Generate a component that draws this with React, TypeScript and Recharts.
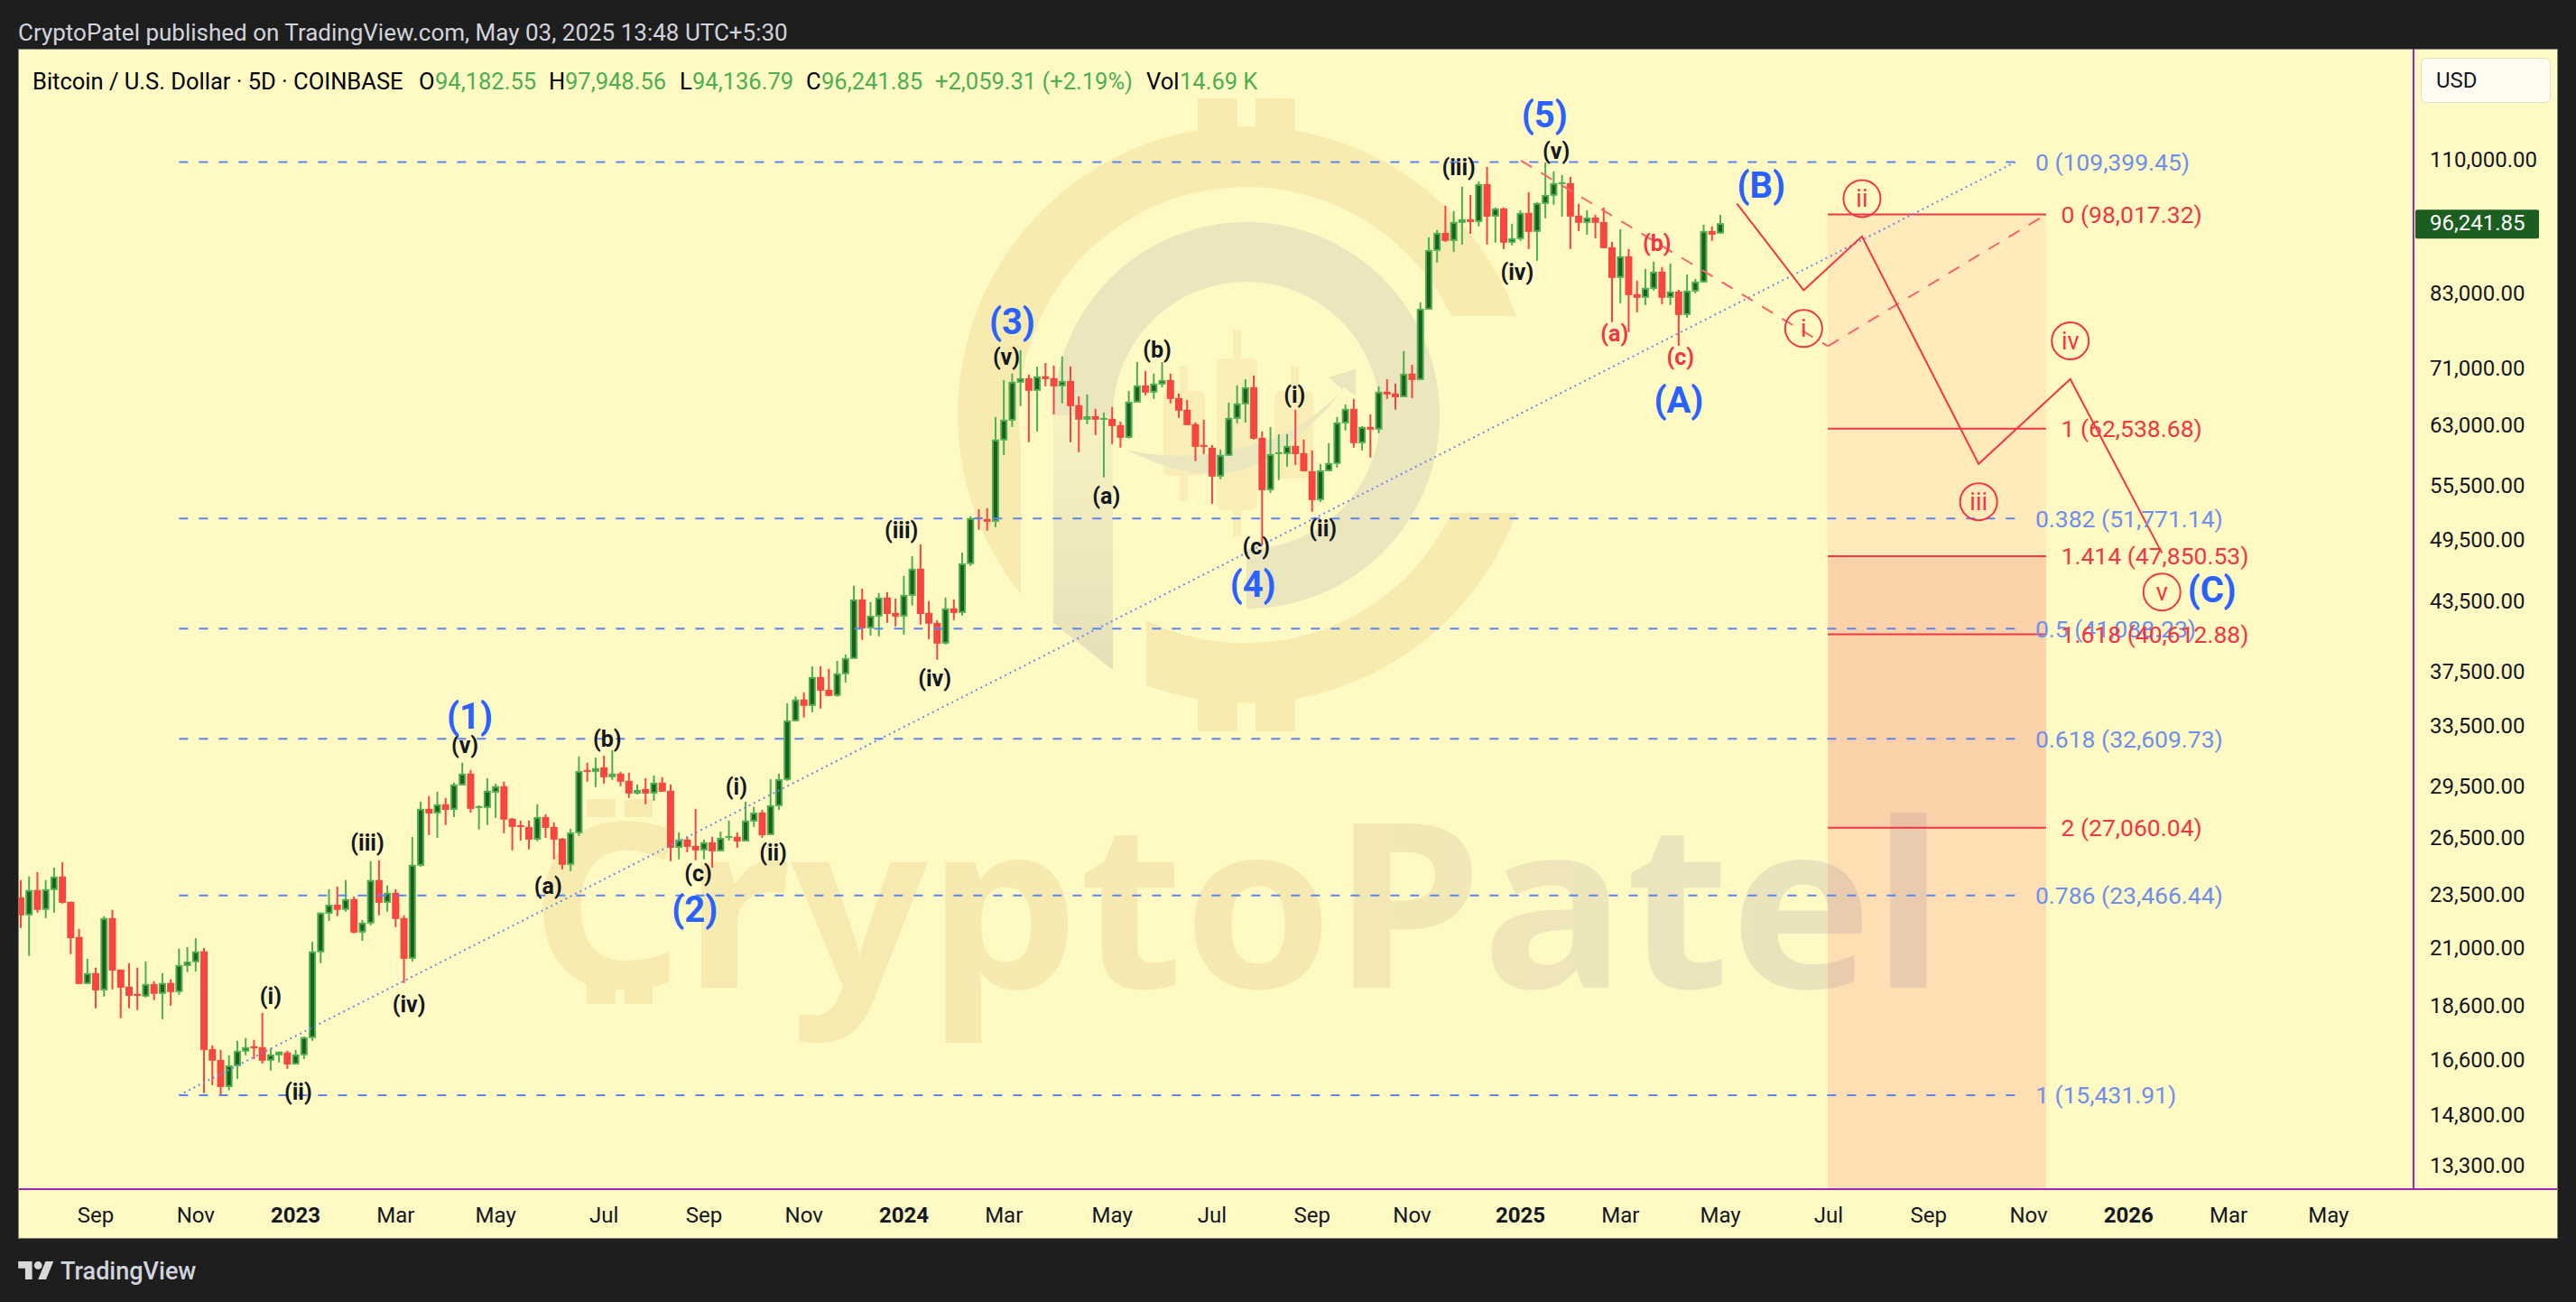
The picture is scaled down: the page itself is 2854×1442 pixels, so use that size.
import { Bar, ComposedChart, Line, ReferenceArea, ReferenceDot, ReferenceLine, XAxis, YAxis } from "recharts";

const BG = "#1e1e1e";
const PANEL = "#fff9c4";
const UP = "#4caf50";
const UP_FILL = "#1b5e20";
const DOWN = "#f5473f";
const RED = "#f23645";
const BLUE = "#2962ff";
const FIB_BLUE = "#5b85f2";
const FIB_TEXT = "#6d8fee";
const AXIS = "#9c27b0";
const FONT = "Roboto, sans-serif";
const BODY_W = 8;

// 5D candles, [open, high, low, close], bar 1 is the one cut by the left edge
const ohlc = [
  [23380, 24240, 21920, 22510], [22510, 24420, 20670, 23740], [23740, 24650, 22640, 22770], [22770, 24240, 22380, 23780],
  [23740, 24880, 22640, 24420], [24420, 25170, 23070, 23110], [23160, 23160, 20750, 21460], [21510, 21880, 19490, 19490],
  [19490, 20550, 19490, 19940], [19940, 20170, 18520, 19230], [19230, 22470, 18980, 22380], [22380, 22770, 19270, 20050],
  [20090, 20090, 18140, 19340], [19380, 20360, 18520, 19010], [19090, 20170, 18450, 19010], [18980, 20430, 18940, 19490],
  [19490, 19600, 18840, 19090], [19090, 19940, 18100, 19530], [19530, 19680, 18620, 19160], [19160, 20990, 19050, 20280],
  [20240, 21060, 19980, 20430], [20400, 21460, 20010, 20870], [20870, 21020, 15500, 16970], [17000, 17130, 15760, 16590],
  [16620, 16970, 15410, 15700], [15700, 16780, 15590, 16430], [16400, 17300, 15970, 16940], [16910, 17400, 16780, 17070],
  [17100, 17330, 16650, 17030], [17070, 18340, 16490, 16590], [16590, 17030, 16250, 16810], [16780, 16910, 16530, 16910],
  [16880, 16940, 16310, 16460], [16460, 16970, 16460, 16810], [16780, 17460, 16650, 17430], [17400, 21300, 17300, 20870],
  [20830, 22640, 20360, 22640], [22590, 23780, 22250, 23020], [23020, 23910, 22470, 22770], [22770, 24240, 22680, 23290],
  [23290, 23420, 21670, 21710], [21710, 22290, 21340, 22170], [22130, 25220, 22040, 24240], [24240, 25270, 22510, 23110],
  [23110, 23960, 22680, 23600], [23600, 23780, 21960, 22340], [22380, 22510, 19530, 20550], [20550, 26540, 20430, 25030],
  [24980, 28580, 24930, 28150], [28150, 28900, 26640, 27880], [27880, 29180, 26490, 28420], [28420, 28800, 27210, 28090],
  [28090, 29740, 27670, 29630], [29570, 31010, 29570, 30310], [30310, 30540, 27930, 28150], [28260, 28360, 26950, 28310],
  [28200, 30020, 27210, 29240], [29120, 29680, 27620, 29520], [29520, 29800, 26740, 27520], [27570, 27620, 25800, 27100],
  [27200, 27460, 26340, 27100], [27100, 27460, 25850, 26390], [26390, 28420, 26290, 27670], [27670, 27830, 26490, 27050],
  [27100, 27360, 25320, 26390], [26440, 26490, 24790, 25030], [25030, 27000, 24700, 26790], [26740, 31420, 26590, 30480],
  [30540, 31010, 29800, 30420], [30420, 31340, 29460, 30660], [30710, 31480, 29680, 30080], [30080, 31840, 29910, 30310],
  [30310, 30420, 29520, 29800], [29850, 30370, 28800, 29070], [29070, 29630, 29010, 29290], [29350, 30020, 28420, 29070],
  [29070, 30190, 28630, 29740], [29740, 30080, 29180, 29180], [29240, 29630, 25220, 25940], [25940, 26790, 25320, 26390],
  [26390, 26540, 25700, 25990], [26040, 28150, 25270, 25800], [25800, 26390, 25320, 26240], [26240, 26540, 24880, 25750],
  [25750, 26840, 25750, 26490], [26490, 27470, 26340, 26590], [26540, 26790, 25940, 26290], [26290, 28580, 26290, 27470],
  [27410, 28260, 27100, 27930], [27930, 28090, 26490, 26640], [26640, 29960, 26640, 28360], [28310, 30310, 28090, 29960],
  [29910, 35130, 29850, 33890], [33830, 35640, 33830, 35410], [35410, 35950, 34090, 34940], [34940, 37970, 34480, 37120],
  [37120, 37970, 34740, 36080], [36140, 37760, 35680, 35680], [35680, 38410, 35610, 37410], [37340, 38920, 36700, 38630],
  [38560, 44960, 38560, 43690], [43690, 44700, 40120, 41120], [41120, 43450, 40500, 42230], [42150, 44280, 40430, 43860],
  [43860, 44360, 41590, 42380], [42470, 43770, 41280, 42150], [42150, 45900, 40580, 44110], [44020, 47850, 43120, 46600],
  [46600, 49050, 41440, 42380], [42470, 43530, 40200, 41520], [41590, 41830, 38490, 39820], [39820, 43860, 39740, 42880],
  [42880, 43690, 41830, 42470], [42470, 48220, 42230, 47130], [47050, 52020, 46870, 51820], [51920, 52810, 50560, 51720],
  [51720, 52910, 50470, 51430], [51430, 64070, 50850, 61110], [61000, 69250, 59170, 63710], [63590, 70180, 62750, 68990],
  [68860, 73730, 65550, 69510], [69510, 70050, 60770, 67700], [67700, 71250, 62160, 69780], [69780, 71790, 68340, 69380],
  [69510, 71390, 64430, 68340], [68340, 72750, 65930, 69120], [69120, 71250, 60770, 65550], [65680, 66920, 59500, 63710],
  [63710, 67180, 63110, 64190], [64190, 65180, 61690, 63710], [63710, 64680, 56440, 63950], [63830, 65430, 60540, 62870],
  [62990, 63470, 60080, 61340], [61340, 67700, 61230, 66170], [66050, 71920, 66050, 68470], [68470, 70580, 67050, 67440],
  [67440, 70180, 66550, 68730], [68600, 71920, 68210, 69250], [69250, 70180, 65930, 66550], [66670, 67310, 63950, 64930],
  [65060, 66420, 62990, 62990], [63110, 63350, 58400, 60190], [60420, 63710, 59280, 60190], [60080, 60420, 53410, 56540],
  [56540, 59840, 56220, 59170], [59060, 66050, 59060, 63950], [63830, 68470, 63230, 65930], [65800, 69380, 63350, 68210],
  [68210, 69910, 61110, 61230], [61340, 62160, 48960, 54950], [54950, 62750, 54650, 59280], [59280, 61800, 56120, 59500],
  [59280, 61800, 57730, 60300], [60300, 65060, 57950, 59280], [59390, 61110, 57180, 57180], [57180, 59730, 52510, 53820],
  [53820, 58030, 53620, 57290], [57180, 60650, 57180, 58170], [58060, 64070, 57620, 63350], [63230, 65800, 62280, 65180],
  [65180, 66550, 60080, 60650], [60650, 62870, 59730, 62750], [62750, 64430, 58840, 62400], [62400, 68340, 61920, 67570],
  [67570, 69380, 66550, 67180], [67310, 68730, 65060, 66790], [66790, 73590, 66790, 70180], [70180, 71520, 66670, 69250],
  [69250, 81510, 69250, 80430], [80280, 93430, 80280, 90980], [90810, 94860, 88610, 94320], [94320, 99850, 92560, 92730],
  [92730, 98710, 90630, 96490], [96310, 103920, 92030, 97040], [97040, 102130, 94130, 96490], [96490, 105070, 95590, 104480],
  [104480, 108320, 92030, 97580], [97580, 99470, 92380, 99280], [99280, 99470, 91160, 92380], [92380, 96130, 91860, 93250],
  [93080, 98900, 92730, 98360], [98360, 102720, 91160, 94500], [94500, 100600, 88940, 100410], [100220, 109330, 97220, 102130],
  [101950, 107300, 100030, 104680], [104480, 106490, 97580, 104880], [104680, 106080, 91160, 97580], [97770, 100220, 94680, 96310],
  [96310, 98900, 93950, 97400], [97400, 97960, 93250, 96310], [96490, 99470, 91330, 91330], [91500, 92550, 78180, 85800],
  [85800, 95040, 81360, 89780], [89780, 91160, 76570, 82760], [82920, 85310, 79830, 82290], [82290, 87420, 81050, 84020],
  [83850, 88780, 83540, 86930], [86930, 87770, 81200, 82290], [82290, 88440, 81050, 83390], [83390, 83700, 74410, 79380],
  [79380, 86440, 78930, 83540], [83390, 85630, 83070, 85150], [84990, 95950, 84990, 94680], [94680, 95590, 92730, 93950],
  [94182.55, 97948.56, 94136.79, 96241.85],
];

const priceTicks = [110000, 96241.85, 83000, 71000, 63000, 55500, 49500, 43500, 37500, 33500, 29500, 26500, 23500, 21000, 18600, 16600, 14800, 13300];
const timeIdx = [10, 22, 34, 46, 58, 71, 83, 95, 107, 119, 132, 144, 156, 168, 181, 193, 205, 218, 230, 242, 254, 266, 278];
const timeLabels = ["Sep", "Nov", "2023", "Mar", "May", "Jul", "Sep", "Nov", "2024", "Mar", "May", "Jul", "Sep", "Nov", "2025", "Mar", "May", "Jul", "Sep", "Nov", "2026", "Mar", "May"];

// retracement drawn from the 2022 low to the 2025 high
const blueLevels = [109399.45, 51771.14, 41088.23, 32609.73, 23466.44, 15431.91];
const blueNames = ["0 (109,399.45)", "0.382 (51,771.14)", "0.5 (41,088.23)", "0.618 (32,609.73)", "0.786 (23,466.44)", "1 (15,431.91)"];

// fib extension box on the right
const redLevels = [98017.32, 62538.68, 47850.53, 40612.88, 27060.04];
const redNames = ["0 (98,017.32)", "1 (62,538.68)", "1.414 (47,850.53)", "1.618 (40,612.88)", "2 (27,060.04)"];

const trendIdx = [20, 240.4];
const trendPrice = [15431.91, 109399.45];
const dropIdx = [181.07, 217.9];
const dropPrice = [109750, 74340];
const riseIdx = [217.9, 244.1];
const risePrice = [74340, 98017.32];
const pathIdx = [207, 215, 222, 236, 247, 258];
const pathPrice = [100270, 83590, 93600, 58060, 69370, 48170];

const bigLabels: [string, number, number][] = [
  ["(1)", 54.9, 34172], ["(2)", 81.9, 22784], ["(3)", 120, 78170], ["(4)", 148.9, 45066], ["(5)", 183.9, 120730],
  ["(A)", 200, 66385], ["(B)", 209.9, 104150], ["(C)", 264, 44565],
];
const blackLabels: [string, number, number][] = [
  ["(i)", 31, 18990], ["(ii)", 34.3, 15535], ["(iii)", 42.6, 26228], ["(iv)", 47.6, 18660], ["(v)", 54.3, 32148],
  ["(a)", 64.3, 23932], ["(b)", 71.4, 32612], ["(c)", 82.3, 24587], ["(i)", 86.9, 29499], ["(ii)", 91.3, 25653],
  ["(iii)", 106.7, 50495], ["(iv)", 110.7, 37008], ["(v)", 119.3, 72657], ["(a)", 131.3, 54234], ["(b)", 137.4, 73769],
  ["(c)", 149.3, 48798], ["(i)", 153.9, 67143], ["(ii)", 157.3, 50686], ["(iii)", 173.6, 108240], ["(iv)", 180.6, 86817],
  ["(v)", 185.3, 111910],
];
const redLabels: [string, number, number][] = [["(a)", 192.3, 76386], ["(b)", 197.4, 92205], ["(c)", 200.2, 72615]];
const circled: [string, number, number][] = [["i", 215, 77150], ["ii", 222, 101352], ["iii", 236, 53635], ["iv", 247, 75172], ["v", 258, 44378]];

const rowMap = new Map<number, any>();
const rowAt = (idx: number) => {
  if (!rowMap.has(idx)) rowMap.set(idx, { idx });
  return rowMap.get(idx);
};
ohlc.forEach((c, i) => {
  const r = rowAt(i + 1);
  r.open = c[0];
  r.high = c[1];
  r.low = c[2];
  r.close = c[3];
  r.range = [c[2], c[1]];
});
trendIdx.forEach((x, i) => (rowAt(x).trend = trendPrice[i]));
dropIdx.forEach((x, i) => (rowAt(x).drop = dropPrice[i]));
riseIdx.forEach((x, i) => (rowAt(x).rise = risePrice[i]));
pathIdx.forEach((x, i) => (rowAt(x).path = pathPrice[i]));
const rows = [...rowMap.values()].sort((a, b) => a.idx - b.idx);

function Candle(props: any) {
  const { x, y, width, height, payload } = props;
  if (!payload || payload.range == null || !height) return null;
  const { open, high, low, close } = payload;
  // the bar only knows high and low, place open and close on the same log scale
  const at = (p: number) => y + (height * Math.log(high / p)) / Math.log(high / low);
  const up = close >= open;
  const top = at(Math.max(open, close));
  const bottom = at(Math.min(open, close));
  const h = Math.max(bottom - top, 2);
  // the fractional rows make the band narrow, so width comes from BODY_W
  const cx = x + width / 2;
  const edge = up ? UP : DOWN;
  return (
    <g>
      <rect x={cx - 1} y={y} width={2} height={height} fill={edge} />
      <rect x={cx - BODY_W / 2} y={top} width={BODY_W} height={h} fill={edge} />
      {h > 4 && <rect x={cx - BODY_W / 2 + 2} y={top + 2} width={BODY_W - 4} height={h - 4} fill={up ? UP_FILL : "#f9463f"} />}
    </g>
  );
}

function PriceTick({ y, payload }: any) {
  const last = payload.value === 96241.85;
  return (
    <g>
      {last && <rect x={2655} y={y - 15} width={137} height={32} rx={2} fill={UP_FILL} />}
      <text x={2671} y={y} dy={8} fontSize={24} fontFamily={FONT} fill={last ? "#fff" : "#131722"}>
        {payload.value.toLocaleString("en-US", { minimumFractionDigits: 2 })}
      </text>
    </g>
  );
}

function TimeTick({ x, payload }: any) {
  const label = timeLabels[timeIdx.indexOf(payload.value)];
  return (
    <text x={x} y={1300} textAnchor="middle" fontSize={24} fontFamily={FONT} fill="#131722" fontWeight={/^\d/.test(label) ? 700 : 400}>
      {label}
    </text>
  );
}

function note(text: string, fill: string, size: number, anchor = "middle", weight = 700) {
  return ({ cx, cy }: any) => (
    <text x={cx} y={cy} textAnchor={anchor as any} dominantBaseline="central" fontFamily={FONT} fontSize={size} fontWeight={weight} fill={fill}>
      {text}
    </text>
  );
}

function ring(text: string) {
  return ({ cx, cy }: any) => (
    <g>
      <circle cx={cx} cy={cy} r={20.5} fill="none" stroke={RED} strokeWidth={2} />
      <text x={cx} y={cy} textAnchor="middle" dominantBaseline="central" fontFamily={FONT} fontSize={27} fill={RED}>
        {text}
      </text>
    </g>
  );
}

function Watermark() {
  const gold = "#f7ebb0";
  const soft = "#f9eeb6";
  const gray = "#ebe6bd";
  return (
    <svg width={2854} height={1442} style={{ position: "absolute", left: 0, top: 0 }}>
      <defs>
        <linearGradient id="wm" x1="0" x2="1" y1="0" y2="0">
          <stop offset="0" stopColor="#f7ebb0" />
          <stop offset="0.55" stopColor="#f5e9b1" />
          <stop offset="0.8" stopColor="#ebe5bd" />
          <stop offset="1" stopColor="#e8e2bd" />
        </linearGradient>
        <linearGradient id="stem" x1="0" x2="0" y1="0" y2="1">
          <stop offset="0" stopColor="#f8f2c2" />
          <stop offset="1" stopColor="#e5e0b8" />
        </linearGradient>
      </defs>
      <path d="M1680 350A319 319 0 1 0 1131 658L1131 492A252 252 0 0 1 1608 350Z" fill={gold} />
      <path d="M1680 568A319 319 0 0 1 1270 759L1270 687A252 252 0 0 0 1608 568Z" fill={gold} />
      <rect x={1327} y={109} width={44} height={50} fill={gold} />
      <rect x={1391} y={109} width={44} height={50} fill={gold} />
      <rect x={1327} y={750} width={44} height={60} fill={gold} />
      <rect x={1391} y={750} width={44} height={60} fill={gold} />
      <path d="M1381 674A214 214 0 1 0 1167 460L1233 460A148 148 0 1 1 1381 608Z" fill={gray} />
      <path d="M1167 460L1167 690L1233 742L1233 460Z" fill="url(#stem)" />
      <rect x={1289} y={433} width={46} height={94} rx={6} fill={soft} />
      <rect x={1307} y={405} width={9} height={150} fill={soft} />
      <rect x={1348} y={397} width={45} height={168} rx={6} fill={soft} />
      <rect x={1366} y={365} width={9} height={230} fill={soft} />
      <rect x={1412} y={433} width={43} height={97} rx={6} fill={soft} />
      <rect x={1430} y={405} width={9} height={125} fill={soft} />
      <path d="M1248 498Q1340 545 1400 510Q1450 478 1481 440L1502 409L1472 418L1488 432Q1440 480 1395 490Q1320 515 1248 498Z" fill={gray} />
      <path d="M1472 418L1502 409L1502 438Z" fill={gray} />
      <rect x={650} y={885} width={32} height={20} fill={gold} />
      <rect x={692} y={885} width={31} height={20} fill={gold} />
      <rect x={650} y={1090} width={32} height={22} fill={gold} />
      <rect x={692} y={1090} width={31} height={22} fill={gold} />
      <text x={587} y={1094} fontFamily="'Noto Sans', sans-serif" fontWeight={700} fontSize={255} textLength={1567} lengthAdjust="spacingAndGlyphs" fill="url(#wm)">
        CryptoPatel
      </text>
    </svg>
  );
}

const legendBits: [string, number, string][] = [
  ["Bitcoin / U.S. Dollar · 5D · COINBASE", 36, "#000"],
  ["O", 464, "#000"], ["94,182.55", 482, UP],
  ["H", 608, "#000"], ["97,948.56", 626, UP],
  ["L", 753, "#000"], ["94,136.79", 767, UP],
  ["C", 893, "#000"], ["96,241.85", 910, UP],
  ["+2,059.31 (+2.19%)", 1036, UP],
  ["Vol", 1270, "#000"], ["14.69 K", 1307, UP],
];

export default function App() {
  return (
    <div style={{ position: "absolute", left: 0, top: 0, width: 2854, height: 1442, background: BG, overflow: "hidden", fontFamily: FONT }}>
      <div style={{ position: "absolute", left: 20, top: 22, color: "#d1d4dc", fontSize: 26, lineHeight: "28px", whiteSpace: "nowrap" }}>
        CryptoPatel published on TradingView.com, May 03, 2025 13:48 UTC+5:30
      </div>
      <div style={{ position: "absolute", left: 20, top: 54, width: 2812, height: 1316, background: PANEL, border: "1px solid #85857c" }} />
      <Watermark />
      {legendBits.map(([text, left, color]) => (
        <div key={left} style={{ position: "absolute", left, top: 76, color, fontSize: 25.5, lineHeight: "28px", whiteSpace: "nowrap" }}>
          {text}
        </div>
      ))}
      <div style={{ position: "absolute", left: 2682, top: 64, width: 126, height: 48, background: "#fffdf2", border: "1px solid #e4e0c4", borderRadius: 6, color: "#131722", fontSize: 24, lineHeight: "48px", paddingLeft: 16 }}>
        USD
      </div>
      <div style={{ position: "absolute", left: 21, top: 54 }}>
        <ComposedChart width={2812} height={1317} data={rows} margin={{ top: 0, right: 0, bottom: 0, left: 0 }}>
          <XAxis
            dataKey="idx"
            type="number"
            domain={[0.783, 288.2]}
            allowDataOverflow
            ticks={timeIdx}
            interval={0}
            height={54}
            tick={<TimeTick />}
            tickLine={false}
            axisLine={{ stroke: AXIS, strokeWidth: 2 }}
          />
          <YAxis
            orientation="right"
            scale="log"
            type="number"
            domain={[12670, 138800]}
            allowDataOverflow
            ticks={priceTicks}
            interval={0}
            width={159}
            tick={<PriceTick />}
            tickLine={false}
            axisLine={{ stroke: AXIS, strokeWidth: 2 }}
          />
          <ReferenceArea x1={217.9} x2={244.1} y1={98017.32} y2={47850.53} fill="#faae97" fillOpacity={0.2} stroke="none" />
          <ReferenceArea x1={217.9} x2={244.1} y1={47850.53} y2={27060.04} fill={RED} fillOpacity={0.2} stroke="none" />
          <ReferenceArea x1={217.9} x2={244.1} y1={27060.04} y2={12670} fill={RED} fillOpacity={0.13} stroke="none" />
          {blueLevels.map((p) => (
            <ReferenceLine key={p} segment={[{ x: 20, y: p }, { x: 240.4, y: p }]} stroke={FIB_BLUE} strokeWidth={2} strokeDasharray="10 12" />
          ))}
          {redLevels.map((p) => (
            <ReferenceLine key={p} segment={[{ x: 217.9, y: p }, { x: 244.1, y: p }]} stroke={RED} strokeWidth={2} />
          ))}
          <Bar dataKey="range" barSize={8} shape={<Candle />} isAnimationActive={false} />
          <Line dataKey="trend" connectNulls dot={false} activeDot={false} stroke="#6b8bf0" strokeWidth={2} strokeDasharray="2 4" isAnimationActive={false} />
          <Line dataKey="drop" connectNulls dot={false} activeDot={false} stroke="#f6636c" strokeWidth={2} strokeDasharray="14 12" isAnimationActive={false} />
          <Line dataKey="rise" connectNulls dot={false} activeDot={false} stroke="#f6636c" strokeWidth={2} strokeDasharray="14 12" isAnimationActive={false} />
          <Line dataKey="path" connectNulls dot={false} activeDot={false} stroke={RED} strokeWidth={2} isAnimationActive={false} />
          {blueLevels.map((p, i) => (
            <ReferenceDot key={blueNames[i]} x={242.8} y={p} r={0} shape={note(blueNames[i], FIB_TEXT, 26.5, "start", 400)} />
          ))}
          {redLevels.map((p, i) => (
            <ReferenceDot key={redNames[i]} x={245.9} y={p} r={0} shape={note(redNames[i], RED, 26.5, "start", 400)} />
          ))}
          {blackLabels.map(([t, x, y]) => (
            <ReferenceDot key={t + x} x={x} y={y} r={0} shape={note(t, "#131722", 25)} />
          ))}
          {redLabels.map(([t, x, y]) => (
            <ReferenceDot key={t + x} x={x} y={y} r={0} shape={note(t, RED, 25)} />
          ))}
          {bigLabels.map(([t, x, y]) => (
            <ReferenceDot key={t} x={x} y={y} r={0} shape={note(t, BLUE, 40)} />
          ))}
          {circled.map(([t, x, y]) => (
            <ReferenceDot key={t} x={x} y={y} r={0} shape={ring(t)} />
          ))}
        </ComposedChart>
      </div>
      <div style={{ position: "absolute", left: 2674, top: 1316, width: 159, height: 2, background: AXIS }} />
      <svg width={40} height={22} viewBox="0 3 36 20" style={{ position: "absolute", left: 20, top: 1396 }}>
        <path d="M14 22H7V11H0V4h14v18zM28 22h-8l7.5-18h8L28 22z" fill="#d9d9d9" />
        <circle cx={20} cy={8} r={4} fill="#d9d9d9" />
      </svg>
      <div style={{ position: "absolute", left: 67, top: 1391, color: "#d1d4dc", fontSize: 27, lineHeight: "34px", fontWeight: 500 }}>TradingView</div>
    </div>
  );
}
